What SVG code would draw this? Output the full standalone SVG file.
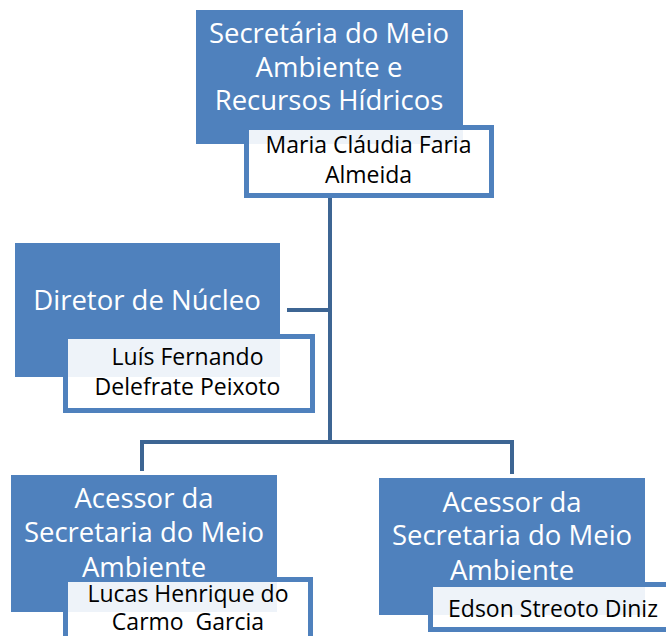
<svg xmlns="http://www.w3.org/2000/svg" width="666" height="636" viewBox="0 0 666 636">
<style>
.role{fill:#4f81bd}
.name{fill:#ffffff;fill-opacity:0.9;stroke:#4f81bd;stroke-width:5}
.rt{font-family:"Open Sans","Noto Sans",sans-serif;font-size:27.5px;fill:#ffffff;text-anchor:middle}
.nt{font-family:"Open Sans","Noto Sans",sans-serif;font-size:23px;fill:#000000;text-anchor:middle}
.conn{fill:none;stroke:#3d6593;stroke-width:4}
</style>
<rect width="666" height="636" fill="#ffffff"/>
<g id="connectors">
<path class="conn" d="M330 198 V442"/>
<path class="conn" d="M287 310 H330"/>
<path class="conn" d="M142 471 V442 H512 V474"/>
</g>
<g id="secretaria">
<rect class="role" x="196" y="10" width="267" height="134"/>
<text class="rt" x="329" y="43">Secretária do Meio</text>
<text class="rt" x="329" y="77">Ambiente e</text>
<text class="rt" x="329" y="110">Recursos Hídricos</text>
<rect class="name" x="246.5" y="127.5" width="245" height="68"/>
<text class="nt" x="368.5" y="153">Maria Cláudia Faria</text>
<text class="nt" x="368.5" y="183">Almeida</text>
</g>
<g id="diretor">
<rect class="role" x="15" y="243" width="265" height="134"/>
<text class="rt" x="147" y="310">Diretor de Núcleo</text>
<rect class="name" x="65.5" y="336.5" width="247" height="74"/>
<text class="nt" x="187.5" y="365">Luís Fernando</text>
<text class="nt" x="187.5" y="395">Delefrate Peixoto</text>
</g>
<g id="acessor1">
<rect class="role" x="11" y="475" width="266" height="137"/>
<text class="rt" x="144" y="508">Acessor da</text>
<text class="rt" x="144" y="542">Secretaria do Meio</text>
<text class="rt" x="144" y="577">Ambiente</text>
<rect class="name" x="65.5" y="579.5" width="245" height="80"/>
<text class="nt" x="188" y="602">Lucas Henrique do</text>
<text class="nt" x="188" y="630" xml:space="preserve">Carmo  Garcia</text>
</g>
<g id="acessor2">
<rect class="role" x="379" y="478" width="266" height="137"/>
<text class="rt" x="512" y="512">Acessor da</text>
<text class="rt" x="512" y="545">Secretaria do Meio</text>
<text class="rt" x="512" y="580">Ambiente</text>
<rect class="name" x="430.5" y="584.5" width="250" height="45"/>
<text class="nt" x="553" y="617">Edson Streoto Diniz</text>
</g>
</svg>
